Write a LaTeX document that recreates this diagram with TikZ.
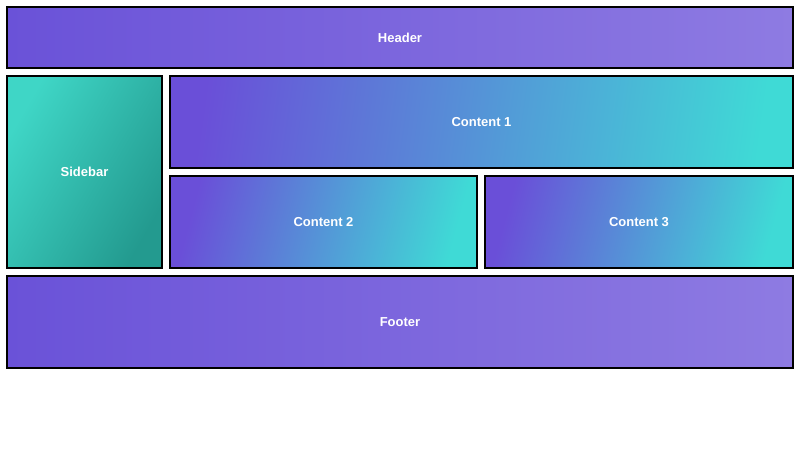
\documentclass[tikz,border=0pt]{standalone}
\usepackage{fontspec}
\setmainfont{Liberation Sans}
\definecolor{pA}{HTML}{6A52D8}
\definecolor{pB}{HTML}{8E7BE2}
\definecolor{tA}{HTML}{3FD6C6}
\definecolor{tB}{HTML}{239A8F}
\definecolor{gA}{HTML}{6A4FD8}
\definecolor{gM}{HTML}{3890F0}
\definecolor{gB}{HTML}{3FDAD6}
\tikzset{
 box/.style={draw=black,line width=2.5pt,text=white,font=\fontsize{13}{15}\selectfont\bfseries},
 purp/.style={box,left color=pA,right color=pB},
 teal/.style={box,left color=tA,right color=tB,shading angle=60},
 grad/.style={box,left color=gA,middle color=gM,right color=gB,shading angle=#1},
}
\begin{document}
\begin{tikzpicture}[x=1pt,y=-1pt]
\useasboundingbox (0,0) rectangle (800,450);
\draw[purp] (7,7) rectangle (793,68) node[midway] (h) {Header};
\draw[teal] (7,76) rectangle (162,268) node[midway] (s) {Sidebar};
\draw[grad=82] (170,76) rectangle (793,168) node[midway] (c1) {Content 1};
\draw[grad=75] (170,176) rectangle (477,268) node[midway] (c2) {Content 2};
\draw[grad=75] (485,176) rectangle (793,268) node[midway] (c3) {Content 3};
\draw[purp] (7,276) rectangle (793,368) node[midway] (f) {Footer};
\end{tikzpicture}
\end{document}
